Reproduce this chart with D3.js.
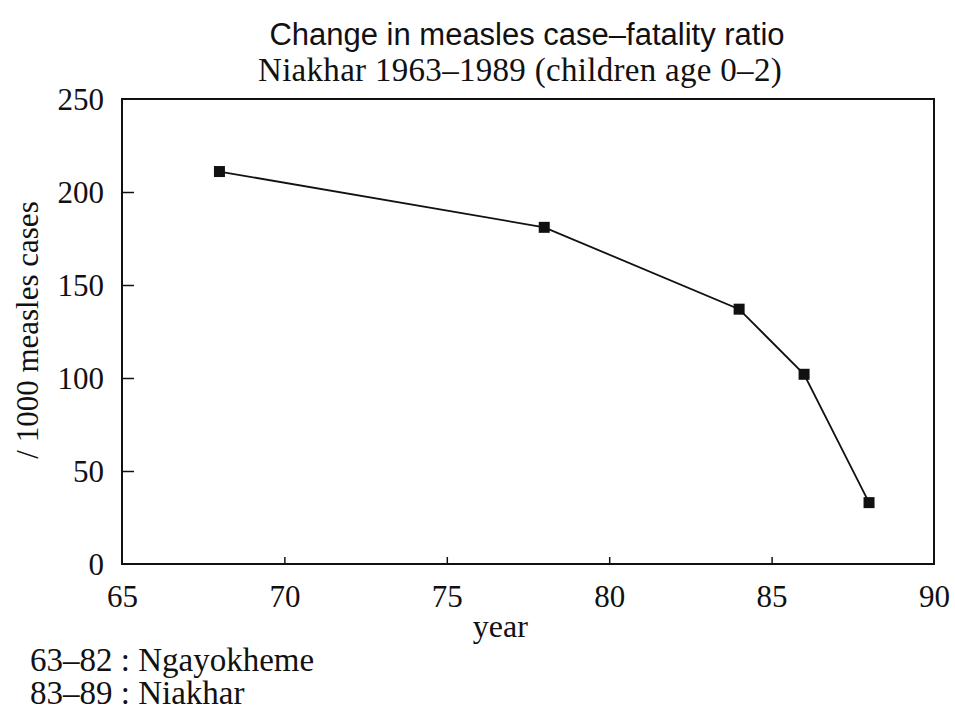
<!DOCTYPE html>
<html>
<head>
<meta charset="utf-8">
<script src="https://cdn.jsdelivr.net/npm/d3@7"></script>
<style>
  body { margin: 0; background: #fff; }
  svg text { fill: #111; }
</style>
</head>
<body>
<div id="viz-container"></div>
<script>
// Measles case-fatality ratio, children age 0-2
const years = [68, 78, 84, 86, 88];
const ratios = [211, 181, 137, 102, 33];
const xTicks = [65, 70, 75, 80, 85, 90];
const yTicks = [0, 50, 100, 150, 200, 250];
const titleLines = ["Change in measles case\u2013fatality ratio", "Niakhar 1963\u20131989 (children age 0\u20132)"];
const footnotes = ["63\u201382 : Ngayokheme", "83\u201389 : Niakhar"];

const width = 955, height = 711;
const margin = { top: 99, right: 21, bottom: 147, left: 122 };
const w = width - margin.left - margin.right;
const h = height - margin.top - margin.bottom;

const serif = "'Liberation Serif', 'DejaVu Serif', serif";
const sans = "'Liberation Sans', Arial, sans-serif";

const root = d3.select("#viz-container").append("svg")
    .attr("width", width)
    .attr("height", height);

const svg = root.append("g")
    .attr("transform", `translate(${margin.left},${margin.top})`);

const x = d3.scaleLinear().domain([65, 90]).range([0, w]);
const y = d3.scaleLinear().domain([0, 250]).range([h, 0]);

// Title
root.append("text")
    .attr("x", 527).attr("y", 45)
    .attr("text-anchor", "middle")
    .style("font-family", sans)
    .style("font-size", "31px")
    .text(titleLines[0]);
root.append("text")
    .attr("x", 520).attr("y", 81)
    .attr("text-anchor", "middle")
    .style("font-family", serif)
    .style("font-size", "33px")
    .style("letter-spacing", "0.3px")
    .text(titleLines[1]);

// Axes (ticks point inward)
const xAxis = svg.append("g")
    .attr("transform", `translate(0,${h})`)
    .call(d3.axisBottom(x).tickValues(xTicks).tickSize(-7).tickPadding(0));
const yAxis = svg.append("g")
    .call(d3.axisLeft(y).tickValues(yTicks).tickSize(-12).tickPadding(18));

[xAxis, yAxis].forEach(g => {
    g.select(".domain").remove();
    g.selectAll(".tick line").attr("stroke", "#111").attr("stroke-width", 1.5);
    g.selectAll("text")
        .style("font-family", serif)
        .style("font-size", "31px")
        .attr("fill", "#111");
});
xAxis.selectAll("text").attr("y", 43).attr("dy", null);
yAxis.selectAll("text").attr("dy", "0.35em");
xAxis.selectAll(".tick line").filter(d => d === 65 || d === 90).remove();
yAxis.selectAll(".tick line").filter(d => d === 0 || d === 250).remove();

// Frame
svg.append("rect")
    .attr("width", w).attr("height", h)
    .attr("fill", "none")
    .attr("stroke", "#111")
    .attr("stroke-width", 2);

// Axis labels
svg.append("text")
    .attr("x", x(76.65)).attr("y", h + 73)
    .attr("text-anchor", "middle")
    .style("font-family", serif)
    .style("font-size", "32px")
    .text("year");

svg.append("text")
    .attr("transform", "rotate(-90)")
    .attr("x", -(330 - margin.top))
    .attr("y", 38 - margin.left)
    .attr("text-anchor", "middle")
    .style("font-family", serif)
    .style("font-size", "31px")
    .text("/ 1000 measles cases");

// Line and markers
const data = years.map((yr, i) => ({ year: yr, value: ratios[i] }));

svg.append("path")
    .datum(data)
    .attr("fill", "none")
    .attr("stroke", "#111")
    .attr("stroke-width", 1.8)
    .attr("d", d3.line().x(d => x(d.year)).y(d => y(d.value)));

svg.selectAll(".dot")
    .data(data)
    .enter()
    .append("rect")
    .attr("class", "dot")
    .attr("x", d => x(d.year) - 5.5)
    .attr("y", d => y(d.value) - 5.5)
    .attr("width", 11)
    .attr("height", 11)
    .attr("fill", "#111");

// Footnotes
footnotes.forEach((t, i) => {
    root.append("text")
        .attr("x", 30).attr("y", 671 + i * 33)
        .style("font-family", serif)
        .style("font-size", "33px")
        .text(t);
});
</script>
</body>
</html>
